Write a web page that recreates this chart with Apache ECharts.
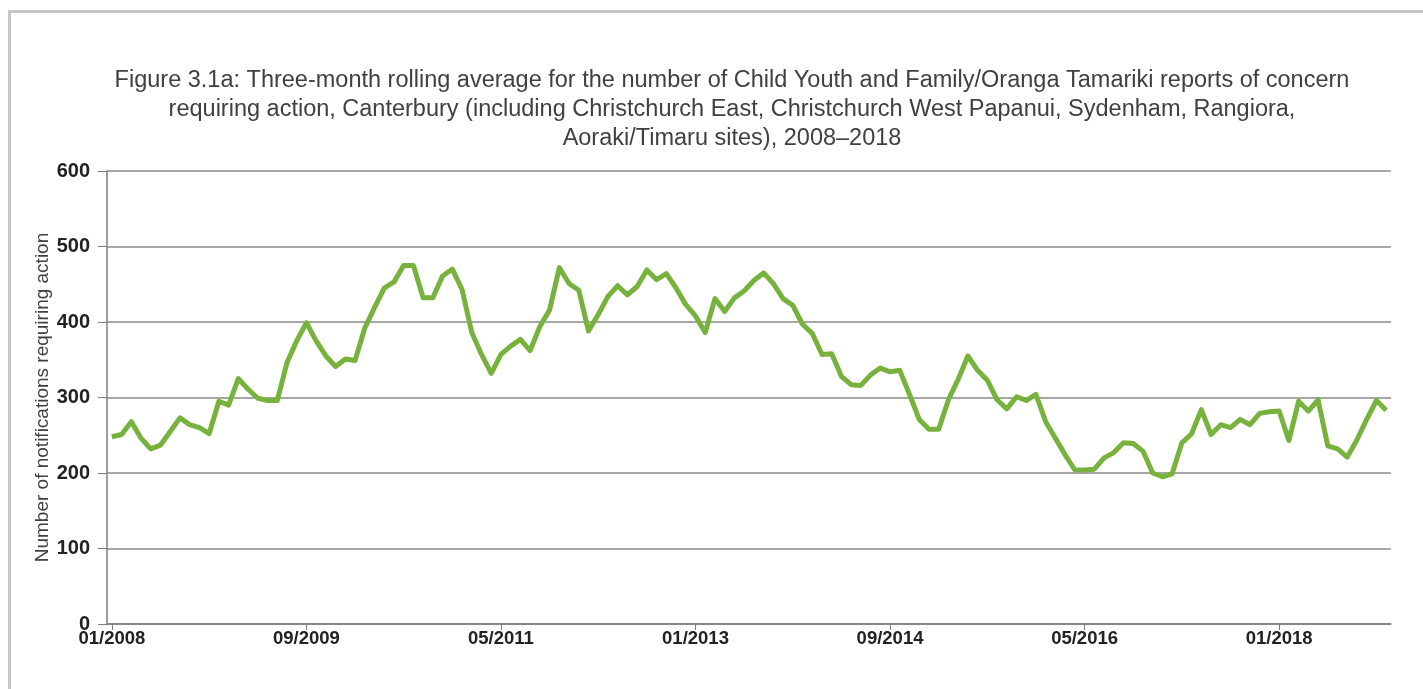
<!DOCTYPE html>
<html>
	<head>
		<meta charset="UTF-8">
		<title>Figure 3.1a</title>
		<script src="https://cdn.jsdelivr.net/npm/echarts@6/dist/echarts.min.js"></script>
		<style>
			html, body {
				margin: 0;
				padding: 0;
				background: #fff;
			}
			.frame {
				position: absolute;
				left: 8px;
				top: 10px;
				width: 1415px;
				height: 679px;
				border-left: 3px solid #c6c6c6;
				border-top: 3px solid #c6c6c6;
				box-sizing: border-box;
			}
			#lineChart {
				position: absolute;
				left: 0;
				top: 0;
				width: 1423px;
				height: 689px;
			}
		</style>
	</head>
	<body>
		<div class="frame"></div>
		<div id="lineChart"></div>
		<script>
			// monthly, 01/2008 - 12/2018
			var startYear = 2008;
			var monthCount = 132;
			var reports = [
				248, 251, 268, 246, 232, 237, 255, 273, 264, 260, 252, 295,
				290, 325, 311, 299, 296, 296, 346, 375, 399, 375, 355, 341,
				351, 349, 392, 419, 445, 453, 475, 475, 432, 432, 461, 470,
				443, 386, 357, 332, 357, 368, 377, 362, 394, 416, 472, 451,
				442, 388, 410, 434, 448, 436, 447, 469, 456, 464, 445, 423,
				408, 386, 431, 414, 432, 441, 455, 465, 451, 431, 422, 397,
				385, 357, 358, 328, 317, 316, 330, 339, 334, 336, 304, 271,
				258, 258, 297, 324, 355, 336, 323, 297, 285, 301, 296, 304,
				268, 246, 224, 204, 204, 205, 220, 227, 240, 239, 229, 200,
				195, 199, 240, 252, 284, 251, 264, 260, 271, 264, 279, 281,
				282, 243, 295, 282, 297, 236, 232, 221, 244, 271, 296, 283
			];
			var yTicks = [0, 100, 200, 300, 400, 500, 600];

			var months = [];
			for (var i = 0; i < monthCount; i++) {
				var m = i % 12 + 1;
				var y = startYear + Math.floor(i / 12);
				months.push((m < 10 ? '0' + m : '' + m) + '/' + y);
			}

			var font = '"Liberation Sans", Arial, sans-serif';

			var chart = echarts.init(document.getElementById('lineChart'));
			chart.setOption({
				animation: false,
				title: {
					text: 'Figure 3.1a: Three-month rolling average for the number of Child Youth and Family/Oranga Tamariki reports of concern\nrequiring action, Canterbury (including Christchurch East, Christchurch West Papanui, Sydenham, Rangiora,\nAoraki/Timaru sites), 2008\u20132018',
					left: 727,
					top: 61,
					textAlign: 'center',
					textStyle: {
						fontFamily: font,
						fontSize: 23.5,
						fontWeight: 'normal',
						color: '#404040',
						lineHeight: 29
					}
				},
				grid: {
					left: 107,
					right: 32,
					top: 171,
					bottom: 65,
					containLabel: false
				},
				xAxis: {
					type: 'category',
					data: months,
					boundaryGap: true,
					axisLine: {
						lineStyle: { color: '#7f7f7f', width: 1.5 }
					},
					axisTick: {
						show: true,
						interval: 19,
						alignWithLabel: true,
						length: 6,
						lineStyle: { color: '#7f7f7f' }
					},
					axisLabel: {
						interval: 19,
						margin: 5,
						fontFamily: font,
						fontSize: 18.5,
						fontWeight: 'bold',
						color: '#222'
					},
					splitLine: { show: false }
				},
				yAxis: {
					type: 'value',
					min: yTicks[0],
					max: yTicks[yTicks.length - 1],
					interval: 100,
					name: 'Number of notifications requiring action',
					nameLocation: 'middle',
					nameGap: 55,
					nameMoveOverlap: false,
					nameRotate: 90,
					nameTextStyle: {
						fontFamily: font,
						fontSize: 19,
						color: '#404040'
					},
					axisLine: {
						show: true,
						lineStyle: { color: '#7f7f7f', width: 1.5 }
					},
					axisTick: {
						show: true,
						inside: false,
						length: 9,
						lineStyle: { color: '#7f7f7f' }
					},
					axisLabel: {
						margin: 17,
						fontFamily: font,
						fontSize: 20,
						fontWeight: 'bold',
						color: '#222'
					},
					splitLine: {
						lineStyle: { color: '#8a8a8a', width: 1.5 }
					}
				},
				series: [{
					name: 'Reports of concern requiring action',
					type: 'line',
					data: reports,
					symbol: 'none',
					lineStyle: { color: '#77b23d', width: 5, join: 'round' },
					itemStyle: { color: '#77b23d' }
				}]
			});
		</script>
	</body>
</html>
